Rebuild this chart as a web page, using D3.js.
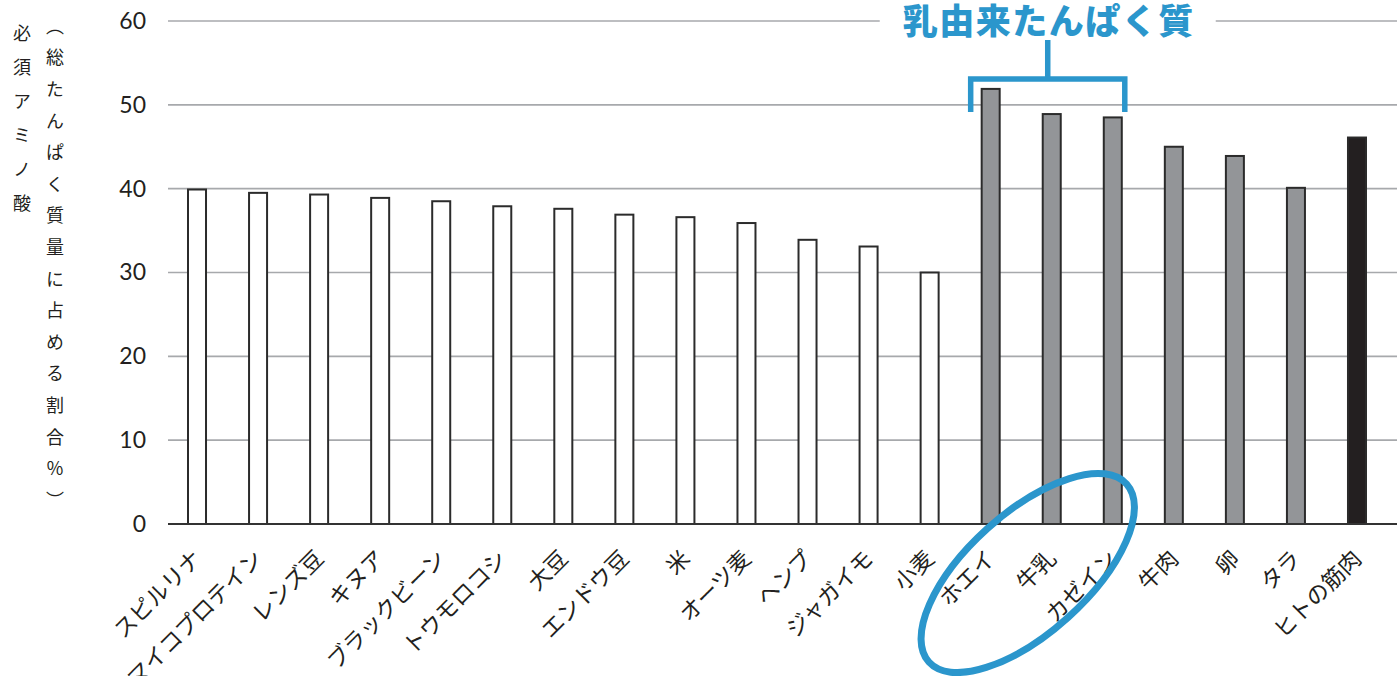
<!DOCTYPE html>
<html><head><meta charset="utf-8">
<script src="https://cdn.jsdelivr.net/npm/d3@7"></script>
<style>
html,body{margin:0;padding:0;background:#fff;}
svg{display:block;font-family:"Noto Sans CJK JP","Noto Sans",sans-serif;}
</style></head>
<body>
<svg id="chart" width="1397" height="676"></svg>
<script>
const categories = ["スピルリナ","マイコプロテイン","レンズ豆","キヌア","ブラックビーン","トウモロコシ","大豆","エンドウ豆","米","オーツ麦","ヘンプ","ジャガイモ","小麦","ホエイ","牛乳","カゼイン","牛肉","卵","タラ","ヒトの筋肉"];
const values = [39.9,39.5,39.3,38.9,38.5,37.9,37.6,36.9,36.6,35.9,33.9,33.1,30.0,51.9,48.9,48.5,45.0,43.9,40.1,46.1];
const groups = ["plant","plant","plant","plant","plant","plant","plant","plant","plant","plant","plant","plant","plant","animal","animal","animal","animal","animal","animal","human"];
const yTicks = [0,10,20,30,40,50,60];
const yTitle1 = "必須アミノ酸";
const yTitle2 = "（総たんぱく質量に占める割合％）";
const annotation = "乳由来たんぱく質";
const highlighted = ["ホエイ","牛乳","カゼイン"];

const svg = d3.select("#chart");
const left = 168, right = 1397, plotRight = 1387;
const x = d3.scaleBand().domain(categories).range([167, plotRight]).paddingInner(0.705).paddingOuter(0.344);
const y = d3.scaleLinear().domain([0,60]).range([524,21]);
const fill = {plant:"#ffffff", animal:"#939598", human:"#231f20"};

// gridlines
svg.append("g").selectAll("line").data(yTicks.filter(d=>d>0)).join("line")
  .attr("x1",left).attr("x2",right)
  .attr("y1",d=>y(d)).attr("y2",d=>y(d))
  .attr("stroke","#a7a9ac").attr("stroke-width",1.6);

// y axis tick labels
const yAxis = d3.axisLeft(y).tickValues(yTicks).tickSize(0).tickPadding(0).tickFormat(d3.format("d"));
const ya = svg.append("g").attr("transform","translate(146,0)").call(yAxis);
ya.select(".domain").remove();
ya.selectAll("text").attr("font-size",23).attr("fill","#231f20")
  .attr("font-family","Lato, 'Noto Sans', sans-serif");

// bars
svg.append("g").selectAll("rect").data(categories).join("rect")
  .attr("x",d=>x(d)).attr("width",x.bandwidth())
  .attr("y",(d,i)=>y(values[i])).attr("height",(d,i)=>y(0)-y(values[i]))
  .attr("fill",(d,i)=>fill[groups[i]])
  .attr("stroke","#2b2b2b").attr("stroke-width",2);

// baseline
svg.append("line").attr("x1",left).attr("x2",right).attr("y1",y(0)).attr("y2",y(0))
  .attr("stroke","#333").attr("stroke-width",2.2);

// x labels
svg.append("g").selectAll("text").data(categories).join("text")
  .attr("transform",d=>`translate(${x(d)+x.bandwidth()/2+6},${y(0)+36}) rotate(-45)`)
  .attr("text-anchor","end").attr("font-size",22.5).attr("fill","#231f20")
  .text(d=>d);

// y title (vertical)
svg.append("text").attr("x",22).attr("y",24)
  .style("writing-mode","vertical-rl").style("letter-spacing","16px")
  .attr("font-size",18).attr("fill","#231f20").text(yTitle1);
svg.append("text").attr("x",55).attr("y",17)
  .style("writing-mode","vertical-rl").style("letter-spacing","13.6px")
  .attr("font-size",18).attr("fill","#231f20").text(yTitle2);

// annotation
const blue = "#2b96cc";
const h0 = x(highlighted[0]) + x.bandwidth()/2, h2 = x(highlighted[2]) + x.bandwidth()/2;
const bx1 = h0 - 20, bx2 = h2 + 12, cx = (bx1+bx2)/2;
svg.append("rect").attr("x",cx-168).attr("y",0).attr("width",336).attr("height",40).attr("fill","#fff");
svg.append("text").attr("x",cx+1).attr("y",34).attr("text-anchor","middle")
  .attr("font-size",35).attr("font-weight",900).attr("fill",blue)
  .style("letter-spacing","1.5px").text(annotation);
svg.append("path")
  .attr("d",`M${bx1},112 V79 H${bx2} V112 M${cx},79 V40`)
  .attr("fill","none").attr("stroke",blue).attr("stroke-width",5.5);

// ellipse
const ex = x("牛乳") + x.bandwidth()/2 - 24;
svg.append("ellipse").attr("cx",0).attr("cy",0).attr("rx",133).attr("ry",60)
  .attr("transform",`translate(${ex},573) rotate(-42)`)
  .attr("fill","none").attr("stroke",blue).attr("stroke-width",7);
</script>
</body></html>
